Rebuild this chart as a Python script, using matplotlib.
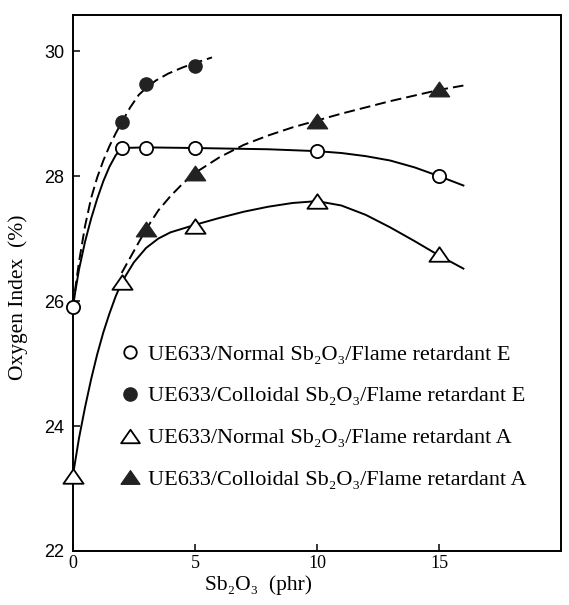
import matplotlib.pyplot as plt
from matplotlib.path import Path
from matplotlib.lines import Line2D

plt.rcParams['font.family'] = ['Liberation Serif', 'DejaVu Serif']

# measured points
ne_x = [0, 2, 3, 5, 10, 15]
ne_y = [25.9, 28.45, 28.45, 28.45, 28.4, 28.0]
ce_x = [2, 3, 5]
ce_y = [28.86, 29.47, 29.76]
na_x = [0, 2, 5, 10, 15]
na_y = [23.2, 26.3, 27.2, 27.6, 26.75]
ca_x = [3, 5, 10, 15]
ca_y = [27.15, 28.05, 28.88, 29.4]

# hand drawn trend curves
ne_cx = [0, 0.1, 0.25, 0.5, 0.75, 1.0, 1.25, 1.5, 1.75, 2, 3, 5, 6.5, 8, 10, 11, 12, 13, 14, 15, 16]
ne_cy = [25.9, 26.15, 26.5, 26.95, 27.32, 27.64, 27.92, 28.15, 28.33, 28.45, 28.46, 28.45, 28.44,
         28.43, 28.4, 28.37, 28.32, 28.25, 28.14, 28.0, 27.85]
ce_cx = [0, 0.1, 0.25, 0.5, 0.75, 1.0, 1.25, 1.5, 1.75, 2.0, 2.35, 2.7, 3.0, 3.4, 3.9, 4.5, 5.0, 5.7]
ce_cy = [25.9, 26.2, 26.62, 27.2, 27.65, 27.98, 28.25, 28.48, 28.68, 28.86, 29.1, 29.3, 29.41,
         29.53, 29.64, 29.74, 29.81, 29.9]
na_cx = [0, 0.25, 0.5, 0.75, 1.0, 1.25, 1.5, 1.75, 2.0, 2.5, 3.0, 3.5, 4.0, 4.5, 5, 6, 7, 8, 9,
         10, 11, 12, 13, 14, 15, 16]
na_cy = [23.2, 23.8, 24.3, 24.75, 25.15, 25.5, 25.8, 26.07, 26.3, 26.62, 26.85, 27.0, 27.1, 27.16,
         27.22, 27.33, 27.43, 27.51, 27.57, 27.6, 27.53, 27.38, 27.18, 26.96, 26.73, 26.52]
ca_cx = [2, 2.5, 3, 3.5, 4, 4.5, 5, 6, 7, 8, 9, 10, 11, 12, 13, 14, 15, 16]
ca_cy = [26.45, 26.8, 27.15, 27.45, 27.68, 27.88, 28.05, 28.3, 28.5, 28.65, 28.78, 28.89, 29.0,
         29.1, 29.2, 29.29, 29.38, 29.45]

labels = ['UE633/Normal Sb₂O₃/Flame retardant E',
          'UE633/Colloidal Sb₂O₃/Flame retardant E',
          'UE633/Normal Sb₂O₃/Flame retardant A',
          'UE633/Colloidal Sb₂O₃/Flame retardant A']

# wide, flat triangle like the printed one
tri = Path([(0, 0.72), (-1, -0.72), (1, -0.72), (0, 0.72)],
           [Path.MOVETO, Path.LINETO, Path.LINETO, Path.CLOSEPOLY])

fig = plt.figure(figsize=(5.69, 6.05), dpi=100)
ax = fig.add_axes([0.128, 0.0893, 0.858, 0.886])

dash = (0, (5.6, 2.6))
ax.plot(ne_cx, ne_cy, color='k', lw=1.4)
ax.plot(na_cx, na_cy, color='k', lw=1.4)
ax.plot(ce_cx, ce_cy, color='k', lw=1.4, ls=dash)
ax.plot(ca_cx, ca_cy, color='k', lw=1.4, ls=dash)

ms = dict(ls='none', clip_on=False, zorder=5)
ax.plot(ne_x, ne_y, marker='o', ms=9.5, mfc='white', mec='k', mew=1.3, **ms)
ax.plot(ce_x, ce_y, marker='o', ms=9.5, mfc='#222222', mec='#222222', **ms)
ax.plot(na_x, na_y, marker=tri, ms=14.5, mfc='white', mec='k', mew=1.3, **ms)
ax.plot(ca_x, ca_y, marker=tri, ms=14.5, mfc='#222222', mec='#222222', **ms)

handles = [Line2D([], [], ls='none', marker='o', ms=9, mfc='white', mec='k', mew=1.3),
           Line2D([], [], ls='none', marker='o', ms=9.5, mfc='#222222', mec='#222222'),
           Line2D([], [], ls='none', marker=tri, ms=13.5, mfc='white', mec='k', mew=1.3),
           Line2D([], [], ls='none', marker=tri, ms=13.5, mfc='#222222', mec='#222222')]
ax.legend(handles, labels, loc='upper left', bbox_to_anchor=(118.5 / 569, 1 - 344 / 605),
          bbox_transform=fig.transFigure, frameon=False, fontsize=16,
          handlelength=1.0, handletextpad=0.33, labelspacing=0.96, borderpad=0,
          borderaxespad=0)

ax.set_xlim(0, 20)
ax.set_ylim(22, 30.58)
ax.set_xticks([0, 5, 10, 15])
ax.set_yticks([22, 24, 26, 28, 30])
ax.tick_params(direction='in', length=5, width=1.1, labelsize=13)
ax.tick_params(axis='y', pad=6)
ax.tick_params(axis='x', pad=3)
for t in ax.get_yticklabels():
    t.set_family('Liberation Sans')
for s in ax.spines.values():
    s.set_linewidth(1.4)

ax.set_xlabel('Sb₂O₃  (phr)', fontsize=15.5)
ax.xaxis.set_label_coords(0.381, -0.045)
ax.set_ylabel('Oxygen Index  (%)', fontsize=15.5)
ax.yaxis.set_label_coords(-0.092, 0.474)

fig.savefig('out.png', dpi=100)
